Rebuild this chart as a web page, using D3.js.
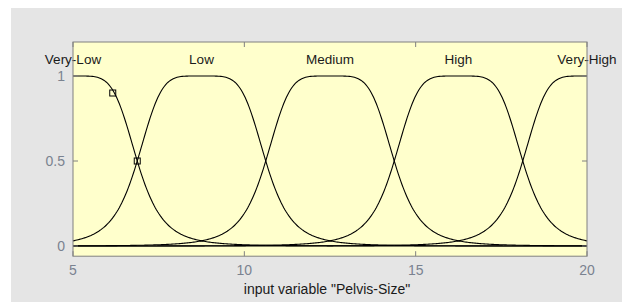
<!DOCTYPE html>
<html>
<head>
<meta charset="utf-8">
<script src="https://cdn.jsdelivr.net/npm/d3@7"></script>
<style>
  body { margin: 0; background: #fff; }
  text { font-family: "Liberation Sans", Arial, sans-serif; }
</style>
</head>
<body>
<svg id="chart" width="622" height="302"></svg>
<script>
// membership functions of input "Pelvis-Size" (generalized bell: a, b, c)
var mfNames = ["Very-Low", "Low", "Medium", "High", "Very-High"];
var mfWidth = [1.875, 1.875, 1.875, 1.875, 1.875];
var mfSlope = [2.5, 2.5, 2.5, 2.5, 2.5];
var mfCenter = [5, 8.75, 12.5, 16.25, 20];
var xRange = [5, 20];
var xTicks = [5, 10, 15, 20];
var yTicks = [0, 0.5, 1];
var yTickLabels = ["0", "0.5", "1"];
// control points shown on the selected MF
var markX = [6.16, 6.875];
var markY = [0.9, 0.5];
var xLabel = 'input variable "Pelvis-Size"';

var svg = d3.select("#chart");

var x = d3.scaleLinear().domain(xRange).range([73, 587]);
var y = d3.scaleLinear().domain([0, 1]).range([246, 76]);

var boxTop = y(1.2), boxBottom = y(-0.06);

// figure background
svg.append("rect").attr("x", 11).attr("y", 8).attr("width", 611).attr("height", 294)
  .attr("fill", "#e5e5e5");

// axes background
svg.append("rect")
  .attr("x", x(xRange[0])).attr("y", boxTop)
  .attr("width", x(xRange[1]) - x(xRange[0])).attr("height", boxBottom - boxTop)
  .attr("fill", "#ffffcc");

function gbell(v, i) {
  return 1 / (1 + Math.pow(Math.abs((v - mfCenter[i]) / mfWidth[i]), 2 * mfSlope[i]));
}

var samples = d3.range(0, 401).map(function(k) {
  return xRange[0] + (xRange[1] - xRange[0]) * k / 400;
});

var line = d3.line()
  .x(function(d) { return x(d[0]); })
  .y(function(d) { return y(d[1]); });

mfNames.forEach(function(name, i) {
  svg.append("path")
    .datum(samples.map(function(v) { return [v, gbell(v, i)]; }))
    .attr("d", line)
    .attr("fill", "none")
    .attr("stroke", "#000")
    .attr("stroke-width", 1.1);

  svg.append("text")
    .attr("x", x(mfCenter[i]))
    .attr("y", y(1.1) + 5)
    .attr("text-anchor", "middle")
    .attr("font-size", 13.5)
    .attr("fill", "#1a1a1a")
    .text(name);
});

// control point squares
svg.selectAll("rect.mark")
  .data(markX)
  .enter().append("rect")
  .attr("class", "mark")
  .attr("x", function(d) { return x(d) - 3; })
  .attr("y", function(d, i) { return y(markY[i]) - 3; })
  .attr("width", 6).attr("height", 6)
  .attr("fill", "none")
  .attr("stroke", "#000");

// box and inward ticks
var boxColor = "#808080";
var tl = 5;
var axes = svg.append("g").attr("stroke", boxColor).attr("fill", "none");
axes.append("rect")
  .attr("x", x(xRange[0])).attr("y", boxTop)
  .attr("width", x(xRange[1]) - x(xRange[0])).attr("height", boxBottom - boxTop);

xTicks.forEach(function(t) {
  axes.append("line").attr("x1", x(t)).attr("x2", x(t)).attr("y1", boxBottom).attr("y2", boxBottom - tl);
  axes.append("line").attr("x1", x(t)).attr("x2", x(t)).attr("y1", boxTop).attr("y2", boxTop + tl);
});
yTicks.forEach(function(t) {
  axes.append("line").attr("x1", x(xRange[0])).attr("x2", x(xRange[0]) + tl).attr("y1", y(t)).attr("y2", y(t));
  axes.append("line").attr("x1", x(xRange[1])).attr("x2", x(xRange[1]) - tl).attr("y1", y(t)).attr("y2", y(t));
});

var tickColor = "#7a8290";
xTicks.forEach(function(t) {
  svg.append("text")
    .attr("x", x(t)).attr("y", boxBottom + 19)
    .attr("text-anchor", "middle")
    .attr("font-size", 14)
    .attr("fill", tickColor)
    .text(t);
});
yTicks.forEach(function(t, i) {
  svg.append("text")
    .attr("x", x(xRange[0]) - 8).attr("y", y(t) + 5)
    .attr("text-anchor", "end")
    .attr("font-size", 14)
    .attr("fill", tickColor)
    .text(yTickLabels[i]);
});

svg.append("text")
  .attr("x", 327).attr("y", 294)
  .attr("text-anchor", "middle")
  .attr("font-size", 14)
  .attr("fill", "#1a1a1a")
  .text(xLabel);
</script>
</body>
</html>
